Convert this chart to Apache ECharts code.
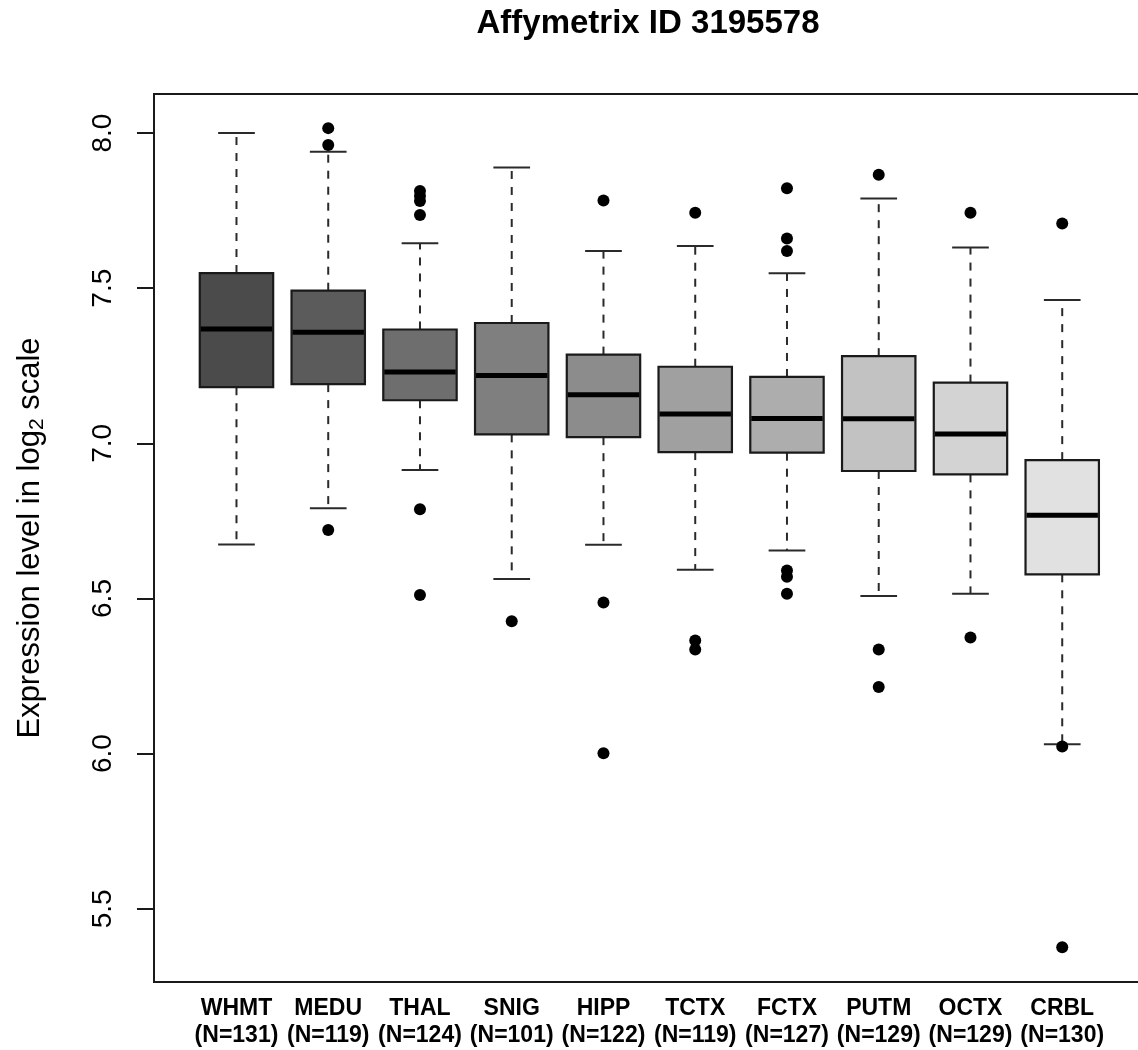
<!DOCTYPE html>
<html><head><meta charset="utf-8">
<script src="https://cdn.jsdelivr.net/npm/echarts@6/dist/echarts.min.js"></script>
<style>html,body{margin:0;padding:0;background:#fff}#c{width:1138px;height:1050px}</style>
</head><body><div id="c"></div>
<script>
const categories = ['WHMT','MEDU','THAL','SNIG','HIPP','TCTX','FCTX','PUTM','OCTX','CRBL'];
const sampleSizes = [131,119,124,101,122,119,127,129,129,130];
const lowerWhisker = [6.674,6.791,6.914,6.563,6.673,6.593,6.655,6.508,6.515,6.030];
const q1 = [7.181,7.191,7.139,7.029,7.020,6.972,6.970,6.911,6.900,6.578];
const median = [7.369,7.358,7.230,7.219,7.157,7.095,7.080,7.079,7.030,6.768];
const q3 = [7.549,7.492,7.367,7.388,7.286,7.247,7.214,7.281,7.196,6.946];
const upperWhisker = [8.000,7.940,7.645,7.889,7.620,7.636,7.548,7.789,7.631,7.462];
const outliers = [
  [],
  [8.016,7.962,6.721],
  [7.813,7.797,7.781,7.736,6.788,6.511],
  [6.427],
  [7.783,6.487,6.001],
  [7.743,6.365,6.336],
  [7.822,7.660,7.620,6.590,6.570,6.515],
  [7.866,6.336,6.215],
  [7.743,6.374],
  [7.709,6.023,5.376]
];
const boxColors = ['#4b4b4b','#5b5b5b','#6e6e6e','#7f7f7f','#8c8c8c','#a0a0a0','#adadad','#c2c2c2','#d3d3d3','#e1e1e1'];
const yTicks = [5.5,6.0,6.5,7.0,7.5,8.0];
const yMin = 5.264, yMax = 8.126;
const titleText = 'Affymetrix ID 3195578';

const FONT = '"Liberation Sans", Arial, Helvetica, sans-serif';

const boxData = categories.map((c, i) => [i, lowerWhisker[i], q1[i], median[i], q3[i], upperWhisker[i]]);
const outlierData = [];
outliers.forEach((arr, i) => arr.forEach(v => outlierData.push([i, v])));

function renderBox(params, api) {
  const i = api.value(0);
  const pLo = api.coord([i, api.value(1)]);
  const pQ1 = api.coord([i, api.value(2)]);
  const pMed = api.coord([i, api.value(3)]);
  const pQ3 = api.coord([i, api.value(4)]);
  const pHi = api.coord([i, api.value(5)]);
  const band = api.size([1, 0])[0];
  const bw = band * 0.8, cw = band * 0.4;
  const x = pMed[0];
  const stroke = '#1a1a1a';
  return {
    type: 'group',
    children: [
      {type: 'line', shape: {x1: x, y1: pQ3[1], x2: x, y2: pHi[1]}, style: {stroke: '#2a2a2a', lineWidth: 2, lineDash: [8, 8]}},
      {type: 'line', shape: {x1: x, y1: pQ1[1], x2: x, y2: pLo[1]}, style: {stroke: '#2a2a2a', lineWidth: 2, lineDash: [8, 8]}},
      {type: 'line', shape: {x1: x - cw / 2, y1: pHi[1], x2: x + cw / 2, y2: pHi[1]}, style: {stroke: '#2a2a2a', lineWidth: 2}},
      {type: 'line', shape: {x1: x - cw / 2, y1: pLo[1], x2: x + cw / 2, y2: pLo[1]}, style: {stroke: '#2a2a2a', lineWidth: 2}},
      {type: 'rect', shape: {x: x - bw / 2, y: pQ3[1], width: bw, height: pQ1[1] - pQ3[1]}, style: {fill: boxColors[i], stroke: stroke, lineWidth: 2.2}},
      {type: 'line', shape: {x1: x - bw / 2 + 1, y1: pMed[1], x2: x + bw / 2 - 1, y2: pMed[1]}, style: {stroke: '#000', lineWidth: 5}}
    ]
  };
}

const chart = echarts.init(document.getElementById('c'), null, {renderer: 'canvas'});
chart.setOption({
  backgroundColor: '#fff',
  animation: false,
  title: {
    text: titleText, left: 648, top: 7, padding: 0, textAlign: 'center',
    textStyle: {fontFamily: FONT, fontSize: 33, fontWeight: 'bold', color: '#000'}
  },
  grid: [
    {left: 154, right: -7, top: 94, bottom: 68, show: true, borderColor: '#1a1a1a', borderWidth: 2,
     backgroundColor: 'transparent', outerBoundsMode: 'none', containLabel: false},
    {left: 190.6, right: 29.9, top: 94, bottom: 68, outerBoundsMode: 'none', containLabel: false}
  ],
  xAxis: [
    {type: 'value', gridIndex: 0, min: 0, max: 1, show: false},
    {type: 'category', gridIndex: 1, data: categories, boundaryGap: true,
     axisLine: {show: false}, axisTick: {show: false}, splitLine: {show: false},
     axisLabel: {interval: 0, margin: 13, fontFamily: FONT, fontSize: 23, fontWeight: 'bold', color: '#000', lineHeight: 27,
       formatter: (v, idx) => v + '\n(N=' + sampleSizes[idx] + ')'}}
  ],
  yAxis: [
    {type: 'value', gridIndex: 0, min: yMin, max: yMax,
     axisLine: {show: true, lineStyle: {color: '#1a1a1a', width: 2}},
     axisTick: {show: true, length: 17, lineStyle: {color: '#1a1a1a', width: 2}, customValues: yTicks},
     axisLabel: {show: true, rotate: 90, margin: 37, fontFamily: FONT, fontSize: 28, color: '#000', customValues: yTicks,
       formatter: v => v.toFixed(1)},
     splitLine: {show: false},
     name: '{a|Expression level in log}{s|2}{a| scale}', nameLocation: 'middle', nameRotate: 90, nameGap: 106,
     nameTextStyle: {fontFamily: FONT, fontSize: 31, color: '#000',
       rich: {a: {fontFamily: FONT, fontSize: 31, lineHeight: 36, color: '#000'},
              s: {fontFamily: FONT, fontSize: 21, lineHeight: 21, verticalAlign: 'bottom', color: '#000'}}}},
    {type: 'value', gridIndex: 1, min: yMin, max: yMax, show: false, splitLine: {show: false}}
  ],
  series: [
    {type: 'custom', xAxisIndex: 1, yAxisIndex: 1, data: boxData, renderItem: renderBox,
     encode: {x: 0, y: [1, 2, 3, 4, 5]}, z: 2},
    {type: 'scatter', xAxisIndex: 1, yAxisIndex: 1, data: outlierData, symbol: 'circle', symbolSize: 12,
     itemStyle: {color: '#000', opacity: 1}, z: 3}
  ]
});
</script></body></html>
